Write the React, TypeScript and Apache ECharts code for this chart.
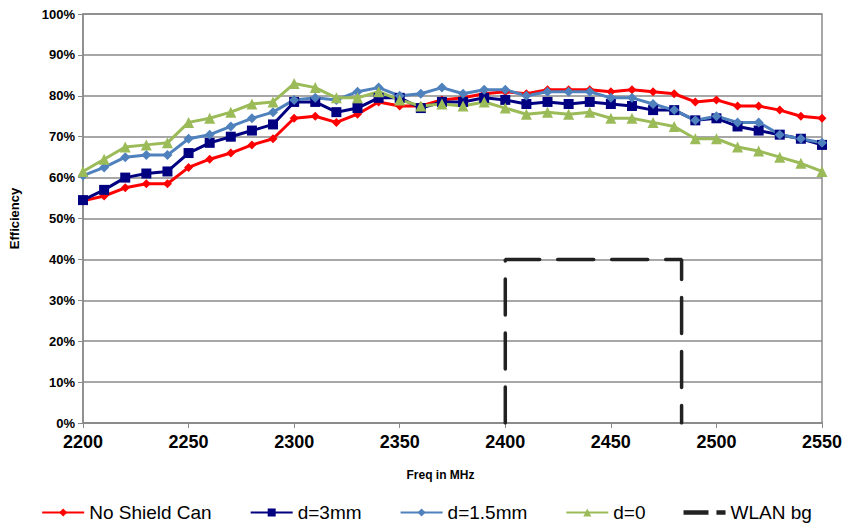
import React, { useEffect, useRef } from "react";
import * as echarts from "echarts";

// Frequency sweep, 10 MHz steps
const freqs: number[] = [
  2200, 2210, 2220, 2230, 2240, 2250, 2260, 2270, 2280, 2290,
  2300, 2310, 2320, 2330, 2340, 2350, 2360, 2370, 2380, 2390,
  2400, 2410, 2420, 2430, 2440, 2450, 2460, 2470, 2480, 2490,
  2500, 2510, 2520, 2530, 2540, 2550,
];

// Efficiency in percent
const noShieldCan: number[] = [
  54.3, 55.5, 57.5, 58.5, 58.5, 62.5, 64.5, 66, 68, 69.5,
  74.5, 75, 73.5, 75.5, 78.5, 77.5, 77.5, 79, 79.5, 80.5,
  81, 80.5, 81.5, 81.5, 81.5, 81, 81.5, 81, 80.5, 78.5,
  79, 77.5, 77.5, 76.5, 75, 74.5,
];
const d3mm: number[] = [
  54.5, 57, 60, 61, 61.5, 66, 68.5, 70, 71.5, 73,
  78.5, 78.5, 76, 77, 79.5, 79.5, 77, 78.5, 78.5, 79.5,
  79, 78, 78.5, 78, 78.5, 78, 77.5, 76.5, 76.5, 74,
  74.5, 72.5, 71.5, 70.5, 69.5, 68,
];
const d15mm: number[] = [
  60.5, 62.5, 65, 65.5, 65.5, 69.5, 70.5, 72.5, 74.5, 76,
  79, 79.5, 79, 81, 82, 80, 80.5, 82, 80.5, 81.5,
  81.5, 80, 81, 81, 81, 79.5, 79.5, 78, 76.5, 74,
  75, 73.5, 73.5, 70.5, 69.5, 68.5,
];
const d0: number[] = [
  61.5, 64.5, 67.5, 68, 68.5, 73.5, 74.5, 76, 78, 78.5,
  83, 82, 79.5, 79.5, 81, 79, 77.5, 78, 77.5, 78.5,
  77, 75.5, 76, 75.5, 76, 74.5, 74.5, 73.5, 72.5, 69.5,
  69.5, 67.5, 66.5, 65, 63.5, 61.5,
];

// WLAN b/g band outline
const wlanFreq: number[] = [2400, 2400, 2483.5, 2483.5];
const wlanLevel: number[] = [0, 40, 40, 0];

const seriesNames = ["No Shield Can", "d=3mm", "d=1.5mm", "d=0", "WLAN bg"];

const pair = (xs: number[], ys: number[]) => xs.map((x, i) => [x, ys[i]]);

// Dashed-line legend glyph for the band outline
const dashIcon = "path://M0,0H22V4H0Z M29,0H37V4H29Z";

export default function App() {
  const ref = useRef<HTMLDivElement>(null);

  useEffect(() => {
    if (!ref.current) return;
    const chart = echarts.init(ref.current, undefined, { renderer: "svg" });
    const font = "Liberation Sans, Arial, sans-serif";

    const curve = (
      name: string,
      ys: number[],
      color: string,
      symbol: string,
      size: number
    ) => ({
      name,
      type: "line",
      data: pair(freqs, ys),
      symbol,
      symbolSize: size,
      showSymbol: true,
      lineStyle: { color, width: 3 },
      itemStyle: { color },
      z: 3,
    });

    chart.setOption({
      animation: false,
      backgroundColor: "#ffffff",
      textStyle: { fontFamily: font },
      grid: {
        left: 83,
        right: 31,
        top: 14,
        bottom: 100,
        show: true,
        borderColor: "#8a8a8a",
        borderWidth: 1.5,
      },
      legend: {
        top: 498,
        left: "center",
        itemGap: 38,
        itemWidth: 42,
        itemHeight: 10,
        textStyle: { fontSize: 19, color: "#000", fontFamily: font },
        data: [
          seriesNames[0],
          seriesNames[1],
          seriesNames[2],
          seriesNames[3],
          { name: seriesNames[4], icon: dashIcon, itemStyle: { color: "#222" } },
        ],
      },
      xAxis: {
        type: "value",
        min: 2200,
        max: 2550,
        interval: 50,
        name: "Freq in MHz",
        nameLocation: "middle",
        nameGap: 46,
        nameTextStyle: {
          fontSize: 12,
          fontWeight: "bold",
          color: "#000",
          padding: [0, 24, 0, 0],
        },
        axisLine: { show: true, lineStyle: { color: "#8a8a8a", width: 1.5 } },
        axisTick: { show: true, length: 5, lineStyle: { color: "#8a8a8a" } },
        axisLabel: {
          fontSize: 18,
          fontWeight: "bold",
          color: "#000",
          margin: 10,
          formatter: (v: number) => String(v),
        },
        splitLine: { show: false },
      },
      yAxis: {
        type: "value",
        min: 0,
        max: 100,
        interval: 10,
        name: "Efficiency",
        nameLocation: "middle",
        nameGap: 62,
        nameRotate: 90,
        nameTextStyle: { fontSize: 13, fontWeight: "bold", color: "#000" },
        axisLine: { show: true, lineStyle: { color: "#8a8a8a", width: 1.5 } },
        axisTick: { show: true, length: 5, lineStyle: { color: "#8a8a8a" } },
        axisLabel: {
          fontSize: 13,
          fontWeight: "bold",
          color: "#000",
          formatter: "{value}%",
          margin: 8,
        },
        splitLine: { show: true, lineStyle: { color: "#8a8a8a", width: 1.5 } },
      },
      series: [
        curve("No Shield Can", noShieldCan, "#ff0000", "diamond", 9),
        curve("d=3mm", d3mm, "#000080", "rect", 10),
        curve("d=1.5mm", d15mm, "#4f81bd", "diamond", 10),
        curve("d=0", d0, "#9bbb59", "triangle", 11),
        {
          name: "WLAN bg",
          type: "line",
          data: pair(wlanFreq, wlanLevel),
          symbol: "none",
          lineStyle: {
            color: "#222222",
            width: 3.5,
            type: [36, 18],
            cap: "round",
          },
          itemStyle: { color: "#222222" },
          z: 2,
        },
      ],
    });

    return () => chart.dispose();
  }, []);

  return (
    <div
      ref={ref}
      style={{ position: "absolute", left: 0, top: 0, width: 853, height: 523 }}
    />
  );
}
